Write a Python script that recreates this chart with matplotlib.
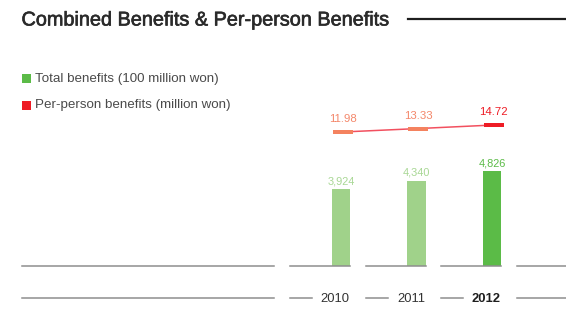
import matplotlib
matplotlib.use("Agg")
import matplotlib.pyplot as plt
import matplotlib.patheffects as pe
from matplotlib.lines import Line2D
from matplotlib.patches import Rectangle

plt.rcParams['font.family'] = ['Liberation Sans', 'DejaVu Sans']

# Data
years = ["2010", "2011", "2012"]
total_benefits = [3924, 4340, 4826]          # 100 million won
per_person_benefits = [11.98, 13.33, 14.72]  # million won
total_labels = ["3,924", "4,340", "4,826"]
per_person_labels = ["11.98", "13.33", "14.72"]

W, H = 566, 329
fig = plt.figure(figsize=(W / 100, H / 100), dpi=100)

def fx(px):
    return px / W

def fy(py):
    return 1 - py / H

LIGHT_GREEN = "#A0D28A"
GREEN = "#5BBB47"
SALMON = "#F4825F"
RED = "#EE1C25"
GREY = "#8E8E8E"

# Category spacing 75.5 px, first bar centre at x=341 px, baseline at y=266 px
bar_px0, step = 341.0, 75.5
base_py, px_per_unit = 266.0, 0.01966
ax = fig.add_axes([0, 0, 1, 1])
ax.set_xlim(-bar_px0 / step, (W - bar_px0) / step)
ax.set_ylim(-(H - base_py) / px_per_unit, base_py / px_per_unit)
ax.axis("off")

bar_colors = [LIGHT_GREEN, LIGHT_GREEN, GREEN]
label_colors = ["#A8D794", "#A8D794", "#5BBB47"]
xs = list(range(len(years)))
bar_w = 18.6 / step
ax.bar(xs, total_benefits, width=bar_w, color=bar_colors, zorder=3)
for x, v, lab, c in zip(xs, total_benefits, total_labels, label_colors):
    ax.annotate(lab, (x, v), xytext=(0, 4.7), textcoords="offset pixels",
                ha="center", va="baseline", fontsize=7.9, color=c)

# Per-person line: same spacing, centred 1.5 px to the right of the bars
line_px0 = 342.5
ref_py, ref_v, py_per_unit = 132.0, 11.98, 2.55
ax2 = fig.add_axes([0, 0, 1, 1])
ax2.patch.set_alpha(0)
ax2.set_xlim(-line_px0 / step, (W - line_px0) / step)
ax2.set_ylim(ref_v - (H - ref_py) / py_per_unit, ref_v + ref_py / py_per_unit)
ax2.axis("off")

ax2.plot(xs, per_person_benefits, color="#F2505F", lw=1.1, zorder=2)
dash = [(-1, -0.18), (1, -0.18), (1, 0.18), (-1, 0.18), (-1, -0.18)]
marker_colors = [SALMON, SALMON, RED]
for x, v, c in zip(xs, per_person_benefits, marker_colors):
    ax2.plot([x], [v], marker=dash, markersize=13.7, color=c,
             markeredgewidth=0, linestyle="none", zorder=3)
pp_label_colors = ["#F4876A", "#F4876A", RED]
for x, v, lab, c in zip(xs, per_person_benefits, per_person_labels, pp_label_colors):
    ax2.annotate(lab, (x, v), xytext=(0, 10), textcoords="offset pixels",
                 ha="center", va="baseline", fontsize=8.2, color=c)

# Title and rule
fig.text(fx(21.5), fy(25.5), "Combined Benefits & Per-person Benefits",
         fontsize=14.3, color="#2A2A2A", ha="left", va="baseline",
         path_effects=[pe.withStroke(linewidth=0.45, foreground="#2A2A2A")])
fig.add_artist(Line2D([fx(407.5), fx(566)], [fy(18.7)] * 2, color="#1E1E1E", lw=1.6))

# Legend
for py, c, txt in [(78.8, GREEN, "Total benefits (100 million won)"),
                   (105.2, RED, "Per-person benefits (million won)")]:
    fig.add_artist(Rectangle((fx(21.7), fy(py + 4.5)), 9 / W, 9 / H,
                             transform=fig.transFigure, color=c, lw=0))
    fig.text(fx(35), fy(py), txt, fontsize=9.65, color="#4A4A4A",
             ha="left", va="center")

# Baseline and axis rules
bar_centres = [bar_px0 + step * i for i in xs]
top_segments = [(22, 274)] + [(c - 51, c + 9.3) for c in bar_centres] + [(516.7, 566)]
bottom_segments = [(22, 274)] + [(c - 51, c - 29) for c in bar_centres] + [(516.7, 566)]
for a, b in top_segments:
    fig.add_artist(Line2D([fx(a), fx(b)], [fy(266)] * 2, color=GREY, lw=1.1))
for a, b in bottom_segments:
    fig.add_artist(Line2D([fx(a), fx(b)], [fy(297.8)] * 2, color=GREY, lw=1.1))

# Year labels, right-aligned to the bar edges
for x, yr in zip(xs, years):
    bold = yr == "2012"
    ax.annotate(yr, (x + bar_w / 2, 0), xycoords="data",
                xytext=(-0.8, -(298.5 - 266)), textcoords="offset pixels",
                ha="right", va="center", fontsize=9.4,
                color="#1E1E1E" if bold else "#333333",
                fontweight="bold" if bold else "normal")

fig.savefig("out.png", dpi=100)
